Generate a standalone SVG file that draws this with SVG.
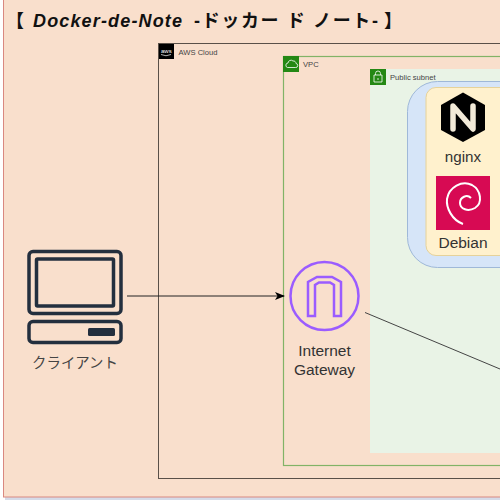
<svg xmlns="http://www.w3.org/2000/svg" width="500" height="500" viewBox="0 0 500 500">
<style>
.s{font-family:"Liberation Sans",Arial,sans-serif;fill:#333}
.j{font-family:"Noto Sans CJK JP","Liberation Sans",sans-serif;fill:#444}
.sm{font-size:7.600px;fill:#444}
.l{font-size:15.500px;text-anchor:middle}
.bar{fill:none;stroke:#232F3E;stroke-width:3.500;stroke-linejoin:round}
.ic{fill:none;stroke:#fff;stroke-width:.8}
.t{font-family:"Liberation Sans","Noto Sans CJK JP",sans-serif;font-size:18px;font-weight:bold;font-style:italic;fill:#111}
.u{font-style:normal}
</style>
<defs>
<marker id="arr" markerWidth="10" markerHeight="8" refX="9" refY="4" orient="auto" markerUnits="userSpaceOnUse"><path d="M0 0L10 4L0 8L2.500 4Z" fill="#000"/></marker>
</defs>
<rect width="500" height="500" fill="#fff"/>
<g id="frame">
<rect x="5" y="3" width="497" height="497" fill="#d5dbe8"/>
<rect x="3.500" y="-1" width="500" height="498" fill="#f9dfcc" stroke="#d98880" stroke-width="1"/>
<text class="t u" x="6" y="27">【</text>
<text class="t" x="33" y="27" textLength="149" lengthAdjust="spacing">Docker-de-Note</text>
<text class="t u" x="194" y="27" textLength="184" lengthAdjust="spacing">-ドッカー ド ノート-</text>
<text class="t u" x="384" y="27">】</text>
</g>
<g id="aws-cloud">
<rect x="158.500" y="43.500" width="345" height="435" fill="none" stroke="#5a5048" stroke-width="1"/>
<rect x="159" y="44" width="15" height="15" fill="#000"/>
<text x="161" y="52.500" font-family="'Liberation Sans',sans-serif" font-size="6" fill="#fff">aws</text>
<path d="M161 54.500q5 2.500 10 0" fill="none" stroke="#fff" stroke-width=".7"/>
<text x="178.500" y="54.500" class="s sm">AWS Cloud</text>
</g>
<g id="vpc">
<rect x="283.500" y="56.500" width="220" height="409" fill="none" stroke="#82b366" stroke-width="1.200"/>
<rect x="283" y="56" width="16" height="16" fill="#248814"/>
<path class="ic" d="M287.500 67.500h8a2 2 0 0 0 .5-4a2.500 2.500 0 0 0-3-2.500a3 3 0 0 0-5 2a2.300 2.300 0 0 0-.5 4.500z"/>
<text x="303" y="67" class="s sm">VPC</text>
</g>
<g id="public-subnet">
<rect x="370" y="69" width="134" height="384" fill="#e9f3e6"/>
<rect x="370" y="69" width="16" height="16" fill="#248814"/>
<path class="ic" d="M374 75h8v7h-8zM375.500 75v-1.500a2.500 2.500 0 0 1 5 0v1.500M378 78v2"/>
<text x="390" y="79.500" class="s sm">Public subnet</text>
</g>
<g id="container-group">
<rect x="407.500" y="81.500" width="130" height="186" rx="30" fill="#d6e5f8" stroke="#9fb8d8" stroke-width="1"/>
<rect x="426" y="87.500" width="100" height="168" rx="10" fill="#fff1cd" stroke="#e6d29a" stroke-width="1"/>
</g>
<g id="nginx">
<path d="M463 92.500L485 105L485 130L463 142L441 130L441 105Z" fill="#000"/>
<path d="M453 129V106L473 129V106" fill="none" stroke="#f2ead8" stroke-width="5.500" stroke-linejoin="round" stroke-linecap="round"/>
<text x="463" y="162" class="s" font-size="15.200" text-anchor="middle">nginx</text>
</g>
<g id="debian">
<rect x="436" y="176" width="54" height="54" fill="#d70a53"/>
<path d="M463 224C452 220 446 208 447 199C449 187 462 180 472 185C481 190 483 203 475 208C468 212 460 209 460 203C460 197 467 194 471 198" fill="none" stroke="#fff" stroke-width="2"/>
<text x="463" y="248" class="s" font-size="15.500" text-anchor="middle">Debian</text>
</g>
<g id="client">
<rect x="29" y="251.500" width="92" height="62" rx="4" class="bar"/>
<rect x="36.500" y="259" width="77" height="47" rx="1" class="bar"/>
<rect x="29" y="321.500" width="92" height="21" rx="4" class="bar"/>
<rect x="88" y="328" width="27" height="8" rx="1.500" fill="#232F3E"/>
<text x="75" y="368" class="j" font-size="14.400" text-anchor="middle">クライアント</text>
</g>
<g id="internet-gateway">
<circle cx="324.500" cy="296" r="34" fill="none" stroke="#9b5cff" stroke-width="2.500"/>
<path d="M308 316V282L317 277H332L341 282V316H334V285L330 282.500H319L315 285V316Z" fill="none" stroke="#9b5cff" stroke-width="2.500"/>
<text class="s l"><tspan x="324.500" y="356">Internet</tspan><tspan x="324.500" y="375">Gateway</tspan></text>
</g>
<g id="connectors" fill="none" stroke-width="1">
<path d="M127 296H284" stroke="#222" marker-end="url(#arr)"/>
<path d="M365 312.500L500 369" stroke="#444"/>
</g>
</svg>
